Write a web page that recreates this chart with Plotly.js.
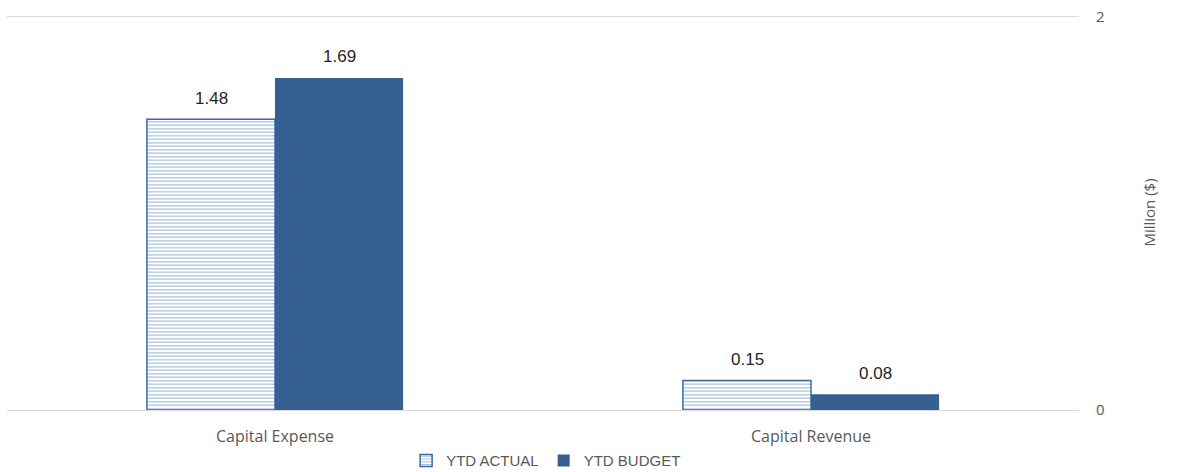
<!DOCTYPE html>
<html><head><meta charset="utf-8">
<script src="https://cdn.plot.ly/plotly-3.0.1.min.js"></script>
<style>html,body{margin:0;padding:0;background:#fff}#chart{width:1177px;height:472px}</style>
</head><body><div id="chart"></div>
<script>
const categories = ["Capital Expense", "Capital Revenue"];
const ytdActual = [1.48, 0.15];
const ytdBudget = [1.69, 0.08];
const seriesNames = ["YTD ACTUAL", "YTD BUDGET"];

const font = "Liberation Sans, Arial, sans-serif";
const labelFont = "Open Sans, Noto Sans, sans-serif";
const traces = [
  {
    type: "bar", name: seriesNames[0], x: categories, y: ytdActual,
    marker: {color: "#ffffff", line: {color: "#3a69a3", width: 1.5},
      pattern: {shape: "-", size: 3.5, solidity: 0.35, fgcolor: "#4a76ad", bgcolor: "#ffffff", fillmode: "overlay"}},
    hoverinfo: "skip"
  },
  {
    type: "bar", name: seriesNames[1], x: categories, y: ytdBudget,
    marker: {color: "#366092", line: {width: 0}},
    hoverinfo: "skip"
  }
];
const series = [ytdActual, ytdBudget];
const shifts = [-64, 64];
const annotations = [];
series.forEach((vals, i) => vals.forEach((v, j) => annotations.push({
  x: categories[j], y: v, xref: "x", yref: "y", text: v.toFixed(2), showarrow: false,
  xshift: shifts[i], yshift: 21, yanchor: "middle",
  font: {size: 17, color: "#262626", family: font}
})));
const layout = {
  width: 1177, height: 472,
  margin: {l: 7, r: 98, t: 15, b: 62},
  paper_bgcolor: "#fff", plot_bgcolor: "#fff",
  barmode: "group", bargap: 0.522, bargroupgap: 0,
  font: {family: font, color: "#595959", size: 13},
  annotations: annotations,
  xaxis: {showgrid: false, showline: false, ticks: "", tickfont: {size: 16, color: "#595959", family: labelFont}, ticklabelstandoff: 15},
  yaxis: {side: "right", range: [0, 2.01], tickvals: [0, 2], showgrid: true, gridcolor: "#d9d9d9", gridwidth: 1,
    zeroline: true, zerolinecolor: "#d9d9d9", zerolinewidth: 1, showline: false, ticks: "",
    tickfont: {size: 15, color: "#595959", family: labelFont}, ticklabelstandoff: 16,
    title: {text: "Million ($)", font: {size: 15, color: "#595959", family: labelFont}, standoff: 40}},
  showlegend: true,
  legend: {orientation: "h", xref: "container", yref: "container", x: 0.464, xanchor: "center", y: 0.024, yanchor: "middle",
    font: {size: 15, color: "#595959", family: font}, itemwidth: 30, traceorder: "normal"}
};
Plotly.newPlot("chart", traces, layout, {staticPlot: true});
</script></body></html>
